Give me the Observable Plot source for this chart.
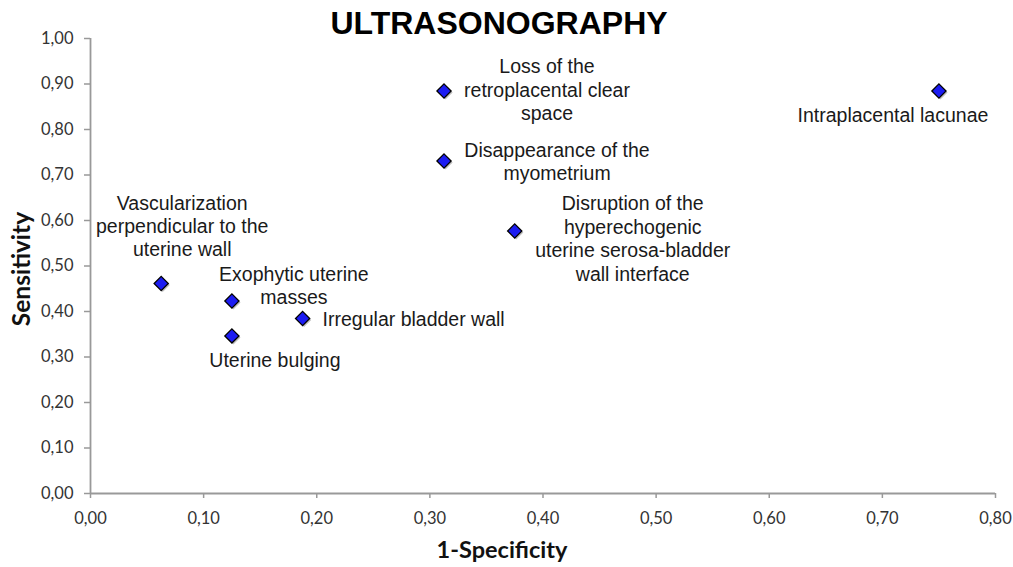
<!DOCTYPE html>
<html>
<head>
<meta charset="utf-8">
<script src="https://cdn.jsdelivr.net/npm/d3@7"></script>
<script src="https://cdn.jsdelivr.net/npm/@observablehq/plot@0.6"></script>
<style>
  html, body { margin: 0; padding: 0; background: #fff; }
  #chart svg { display: block; }
</style>
</head>
<body>
<div id="chart"></div>
<script>
const labels = [
  "Vascularization\nperpendicular to the\nuterine wall",
  "Exophytic uterine\nmasses",
  "Uterine bulging",
  "Irregular bladder wall",
  "Loss of the\nretroplacental clear\nspace",
  "Disappearance of the\nmyometrium",
  "Disruption of the\nhyperechogenic\nuterine serosa-bladder\nwall interface",
  "Intraplacental lacunae"
];
const oneMinusSpecificity = [0.0625, 0.125, 0.125, 0.1875, 0.3125, 0.3125, 0.375, 0.75];
const sensitivity = [0.4615, 0.4231, 0.3462, 0.3846, 0.8846, 0.7308, 0.5769, 0.8846];
const xTicks = [0, 0.1, 0.2, 0.3, 0.4, 0.5, 0.6, 0.7, 0.8];
const yTicks = [0, 0.1, 0.2, 0.3, 0.4, 0.5, 0.6, 0.7, 0.8, 0.9, 1.0];

const data = labels.map((label, i) => ({label, x: oneMinusSpecificity[i], y: sensitivity[i]}));

// label placement (styling only, per point index)
const placement = [
  {dx: 21, dy: -58, anchor: "middle"},
  {dx: 62, dy: -16, anchor: "middle"},
  {dx: 43, dy: 24, anchor: "middle"},
  {dx: 20, dy: 0, anchor: "start"},
  {dx: 103, dy: -2, anchor: "middle"},
  {dx: 113, dy: 0, anchor: "middle"},
  {dx: 118, dy: 7, anchor: "middle"},
  {dx: -46, dy: 23, anchor: "middle"}
];

const fmt = d => d.toFixed(2).replace(".", ",");
const labelFont = "'Liberation Sans', Arial, Helvetica, sans-serif";
const tickFont = "Lato, 'Open Sans', sans-serif";

const plot = Plot.plot({
  width: 1013,
  height: 567,
  marginLeft: 90,
  marginRight: 18,
  marginTop: 38,
  marginBottom: 74,
  style: {fontFamily: tickFont, fontSize: "16.5px", color: "#333", background: "#fff"},
  x: {domain: [0, 0.8], label: null},
  y: {domain: [0, 1], label: null},
  marks: [
    Plot.axisX({ticks: xTicks, tickFormat: fmt, tickSize: 5, tickPadding: 14, stroke: "#999", strokeWidth: 1.5, fill: "#333", fontSize: 16.5, label: null}),
    Plot.axisY({ticks: yTicks, tickFormat: fmt, tickSize: 6, tickPadding: 11, stroke: "#999", strokeWidth: 1.5, fill: "#333", fontSize: 16.5, label: null}),
    Plot.ruleX([0], {stroke: "#999", strokeWidth: 1.8}),
    Plot.ruleY([0], {stroke: "#999", strokeWidth: 1.8}),
    Plot.dot(data, {x: "x", y: "y", symbol: "diamond2", r: 6.4, dx: 1.5, dy: 1.5, fill: "#000", fillOpacity: 0.25}),
    Plot.dot(data, {x: "x", y: "y", symbol: "diamond2", r: 6.4, fill: "#1c1cf2", stroke: "#000", strokeWidth: 1.3}),
    ...data.map((d, i) => Plot.text([d], {
      x: "x", y: "y", text: "label",
      dx: placement[i].dx, dy: placement[i].dy, textAnchor: placement[i].anchor,
      lineHeight: 1.2, fontSize: 19.5, fill: "#1a1a1a", fontFamily: labelFont
    })),
    Plot.text(["ULTRASONOGRAPHY"], {frameAnchor: "top", lineAnchor: "middle", textAnchor: "middle", dx: -44, dy: -15, fontSize: 32, fontWeight: "bold", fill: "#000", fontFamily: labelFont}),
    Plot.text(["1-Specificity"], {frameAnchor: "bottom", lineAnchor: "middle", textAnchor: "middle", dx: -41, dy: 57, fontSize: 23.5, fontWeight: "bold", fill: "#111", fontFamily: tickFont}),
    Plot.text(["Sensitivity"], {frameAnchor: "left", lineAnchor: "middle", textAnchor: "middle", dx: -68, dy: 3, rotate: -90, fontSize: 24.5, fontWeight: "bold", fill: "#111", fontFamily: tickFont})
  ]
});
document.getElementById("chart").appendChild(plot);
</script>
</body>
</html>
